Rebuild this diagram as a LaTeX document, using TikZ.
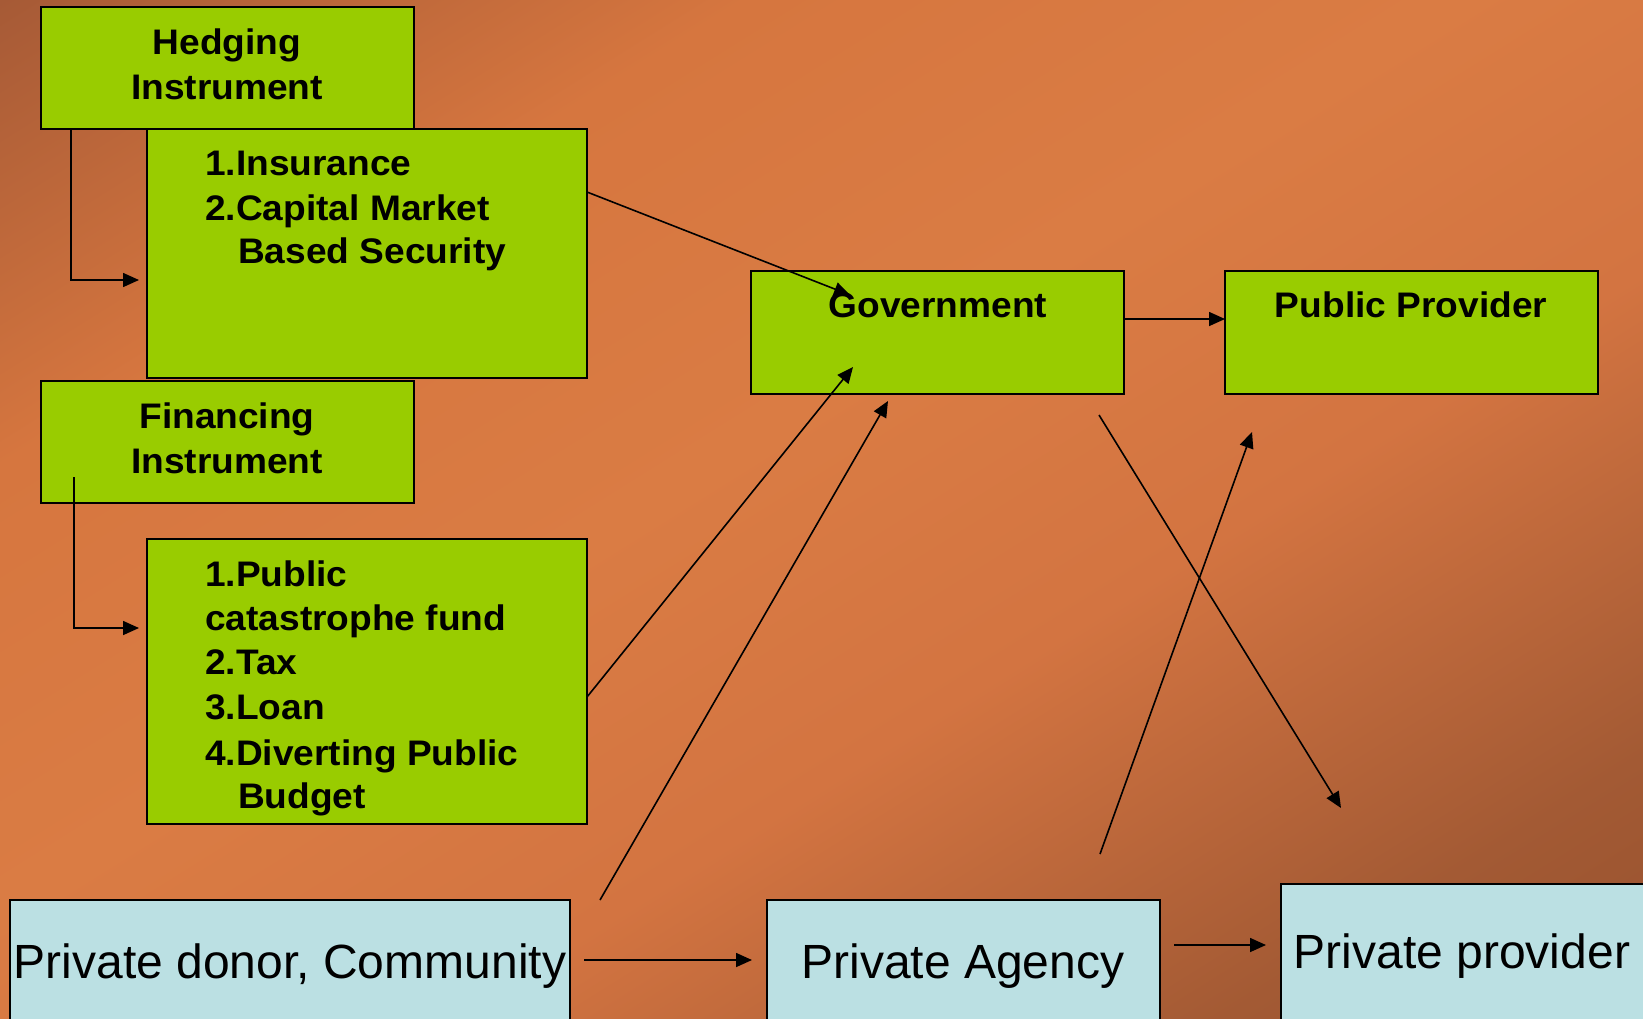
\documentclass[tikz,border=0pt]{standalone}
\usepackage{fontspec}
\setmainfont{Liberation Sans}
\newfontfamily\hb[FakeStretch=1.045]{Liberation Sans}
\usetikzlibrary{arrows.meta}
\definecolor{bgA}{RGB}{150,80,46}
\definecolor{bgB}{RGB}{152,82,47}
\definecolor{bgC}{RGB}{163,90,52}
\definecolor{bgD}{RGB}{211,116,65}
\definecolor{bgE}{RGB}{218,124,68}
\definecolor{bgF}{RGB}{214,118,63}
\definecolor{bgG}{RGB}{166,90,54}
\definecolor{bgH}{RGB}{150,80,48}
\pgfdeclareverticalshading{bgshade}{100bp}{color(0bp)=(bgA); color(25bp)=(bgA); color(26bp)=(bgB); color(31.5bp)=(bgC); color(41.75bp)=(bgD); color(50bp)=(bgE); color(59.5bp)=(bgF); color(69.4bp)=(bgG); color(75bp)=(bgH); color(100bp)=(bgH)}
\definecolor{boxgreen}{RGB}{153,204,0}
\definecolor{boxblue}{RGB}{187,224,227}
\begin{document}
\begin{tikzpicture}[x=1pt,y=-1pt,
  gbox/.style={draw=black, line width=1.6pt, fill=boxgreen, inner sep=0pt, outer sep=0pt, anchor=north west},
  bbox/.style={draw=black, line width=1.4pt, fill=boxblue, inner sep=0pt, outer sep=0pt, anchor=north west},
  btxt/.style={font=\hb\bfseries\fontsize{35.5}{44}\selectfont, inner sep=0pt},
  ptxt/.style={font=\fontsize{48}{58}\selectfont, inner sep=0pt, anchor=base},
  arr/.style={line width=1.6pt, -{Triangle[length=16pt,width=14pt]}},
  ln/.style={line width=1.6pt}]
\useasboundingbox (0,0) rectangle (1643,1018);
% background
\begin{scope}
  \clip (0,0) rectangle (1643,1018);
  \shade[shading=bgshade, shading angle=32]
         (-180,-600) rectangle (1820,1400);
\end{scope}
% boxes
\node[gbox, minimum width=373pt, minimum height=122pt] (hedge) at (41,7) {};
\node[gbox, minimum width=440pt, minimum height=249pt] (ins) at (147,129) {};
\node[gbox, minimum width=373pt, minimum height=122pt] (fin) at (41,381) {};
\node[gbox, minimum width=440pt, minimum height=285pt] (list) at (147,539) {};
\node[gbox, minimum width=373pt, minimum height=123pt] (gov) at (751,271) {};
\node[gbox, minimum width=373pt, minimum height=123pt] (pub) at (1225,271) {};
\node[bbox, minimum width=560pt, minimum height=140pt] (donor) at (10,900) {};
\node[bbox, minimum width=393pt, minimum height=140pt] (agency) at (767,900) {};
\node[bbox, minimum width=380pt, minimum height=150pt] (prov) at (1281,884) {};
% texts
\node[btxt, anchor=base] (hedgeA) at (227,54) {Hedging};
\node[btxt, anchor=base] (hedgeB) at (227,99) {Instrument};
\node[btxt, anchor=base west] (insA) at (205,175) {1.Insurance};
\node[btxt, anchor=base west] (insB) at (205,220) {2.Capital Market};
\node[btxt, anchor=base west] (insC) at (238,263) {Based Security};
\node[btxt, anchor=base] (finA) at (227,428) {Financing};
\node[btxt, anchor=base] (finB) at (227,473) {Instrument};
\node[btxt, anchor=base west] (listA) at (205,586) {1.Public};
\node[btxt, anchor=base west] (listB) at (205,630) {catastrophe fund};
\node[btxt, anchor=base west] (listC) at (205,674) {2.Tax};
\node[btxt, anchor=base west] (listD) at (205,719) {3.Loan};
\node[btxt, anchor=base west] (listE) at (205,765) {4.Diverting Public};
\node[btxt, anchor=base west] (listF) at (238,808) {Budget};
\node[btxt, anchor=base] (govT) at (938,317) {Government};
\node[btxt, anchor=base] (pubT) at (1411,317) {Public Provider};
\node[ptxt] (donorT) at (290,978) {Private donor, Community};
\node[ptxt] (agencyT) at (963,978) {Private Agency};
\node[ptxt] (provT) at (1462,968) {Private provider};
% connector helper coordinates
\coordinate (hx) at (71,0);
\coordinate (hy) at (0,280);
\coordinate (fs) at (74,477);
\coordinate (fy) at (0,628);
\coordinate (c1y) at (0,192);
\coordinate (g1) at (850,295);
\coordinate (c2y) at (0,697);
\coordinate (g2) at (853,367);
\coordinate (d1) at (600,900);
\coordinate (g3) at (888,401);
\coordinate (gpy) at (0,319);
\coordinate (g4) at (1099,415);
\coordinate (p1) at (1341,808);
\coordinate (a1) at (1100,854);
\coordinate (p2) at (1252,432);
\coordinate (dy) at (0,960);
\coordinate (ay) at (0,945);
% connectors
\draw[arr, shorten >=8pt] (hedge.south -| hx) |- (ins.west |- hy);
\draw[arr, shorten >=8pt] (fs) |- (list.west |- fy);
\draw[arr] (ins.east |- c1y) -- (g1);
\draw[arr] (list.east |- c2y) -- (g2);
\draw[arr] (d1) -- (g3);
\draw[arr] (gov.east |- gpy) -- (pub.west |- gpy);
\draw[arr] (g4) -- (p1);
\draw[arr] (a1) -- (p2);
\draw[arr, shorten <=14pt, shorten >=15pt] (donor.east |- dy) -- (agency.west |- dy);
\draw[arr, shorten <=14pt, shorten >=15pt] (agency.east |- ay) -- (prov.west |- ay);
\end{tikzpicture}
\end{document}
